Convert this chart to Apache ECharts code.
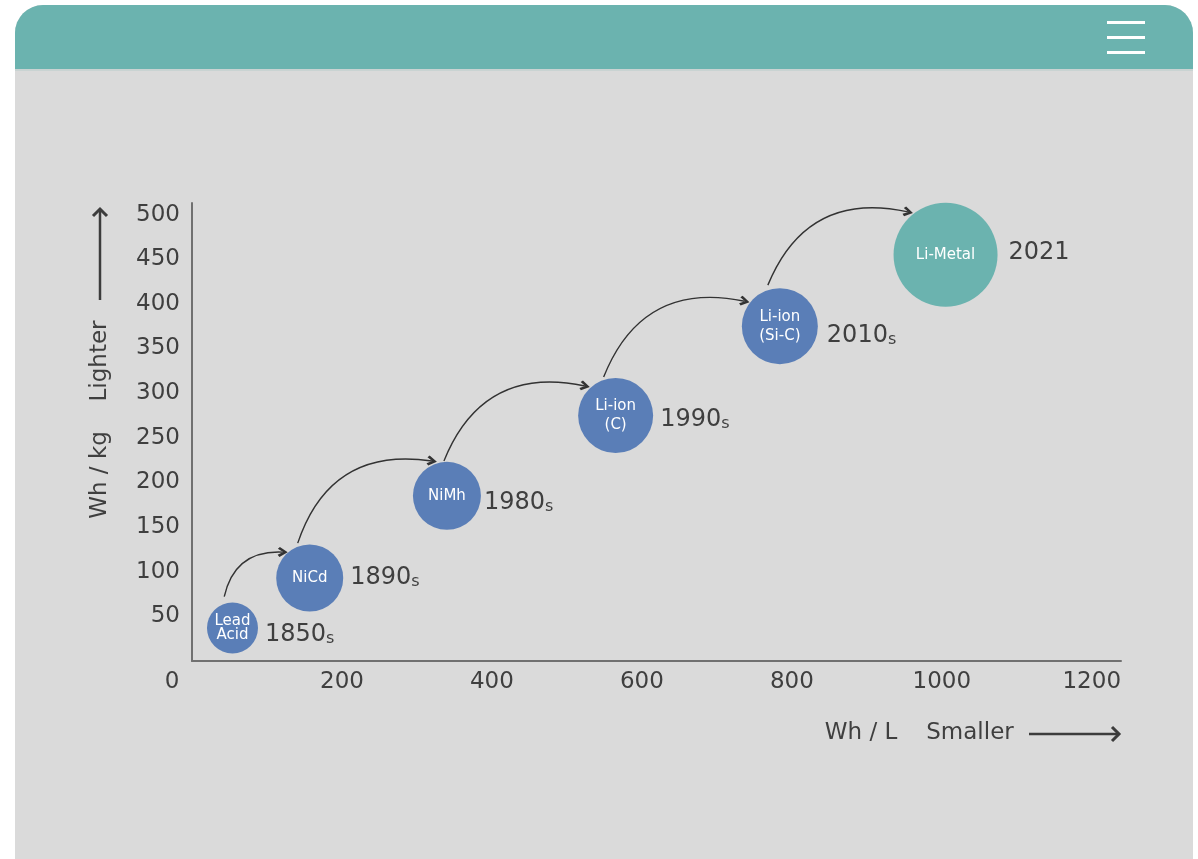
<!DOCTYPE html>
<html>
<head>
<meta charset="utf-8">
<title>Battery energy density</title>
<style>
  html, body { margin: 0; padding: 0; width: 100%; height: 100%; background: #fff; }
  #main { width: 1198px; height: 859px; }
</style>
<script src="https://cdn.jsdelivr.net/npm/echarts@6/dist/echarts.min.js"></script>
</head>
<body>
<div id="main"></div>
<script>
// data
var chemistries = ['Lead\nAcid', 'NiCd', 'NiMh', 'Li-ion\n(C)', 'Li-ion\n(Si-C)', 'Li-Metal'];
var eras = ['1850', '1890', '1980', '1990', '2010', '2021'];
var eraSuffix = ['s', 's', 's', 's', 's', ''];
var whPerL = [54, 157, 340, 565, 784, 1005];
var whPerKg = [37, 93, 185, 275, 375, 455];
// curved arrows, start / end in axis units
var arrowFrom = [[43, 72], [141, 132], [336, 224], [549, 318], [768, 421]];
var arrowTo = [[121, 122], [320, 224], [524, 308], [737, 403], [955, 503]];

// look
var bubbleSize = [51, 67, 68, 75, 76, 104];
var bubbleColor = ['#5a7eb7', '#5a7eb7', '#5a7eb7', '#5a7eb7', '#5a7eb7', '#6bb3af'];
var innerLineHeight = [14, 16, 16, 19, 19, 16];
var eraOffset = [[0, 7], [0, 0], [-4, 7], [0, 4], [2, 10], [4, -2]];
var FONT = 'DejaVu Sans';
var TEXT = '#3f3f3f';

var myChart = echarts.init(document.getElementById('main'));

// bubbles carry the era label on their right
var bubbles = whPerL.map(function (x, i) {
    return {
        value: [x, whPerKg[i]],
        symbolSize: bubbleSize[i],
        itemStyle: { color: bubbleColor[i] },
        label: {
            formatter: '{a|' + eras[i] + '}' + (eraSuffix[i] ? '{b|' + eraSuffix[i] + '}' : ''),
            offset: eraOffset[i]
        }
    };
});
// invisible twins carry the white name inside
var names = whPerL.map(function (x, i) {
    return {
        value: [x, whPerKg[i]],
        symbolSize: bubbleSize[i],
        label: { lineHeight: innerLineHeight[i] }
    };
});
var arrows = arrowFrom.map(function (p, i) {
    return { coords: [p, arrowTo[i]] };
});

var chevron = 'path://M5,0 L10,6.6 L8,8.2 L5,3.8 L2,8.2 L0,6.6 Z';

var option = {
    backgroundColor: '#ffffff',
    animation: false,
    grid: { left: 192, right: 77, top: 203, bottom: 198 },
    xAxis: {
        type: 'value',
        min: 0,
        max: 1239,
        interval: 200,
        splitLine: { show: false },
        axisTick: { show: false },
        axisLine: { show: true, lineStyle: { color: '#707070', width: 2 } },
        axisLabel: {
            margin: 10,
            color: TEXT,
            fontFamily: FONT,
            fontSize: 23,
            formatter: function (v) {
                if (v === 0) return '{o|0}';
                return v % 200 === 0 ? String(v) : '';
            },
            rich: {
                o: { fontFamily: FONT, fontSize: 23, color: TEXT, padding: [0, 40, 0, 0] }
            }
        }
    },
    yAxis: {
        type: 'value',
        min: 0,
        max: 513,
        interval: 50,
        splitLine: { show: false },
        axisTick: { show: false },
        axisLine: { show: true, lineStyle: { color: '#707070', width: 2 } },
        axisLabel: {
            margin: 12,
            color: TEXT,
            fontFamily: FONT,
            fontSize: 23,
            formatter: function (v) {
                return (v > 0 && v % 50 === 0) ? String(v) : '';
            }
        }
    },
    graphic: [
        // card + header
        { type: 'rect', z: -10, shape: { x: 15, y: 5, width: 1178, height: 860, r: [28, 28, 0, 0] }, style: { fill: '#dadada' } },
        { type: 'rect', z: -9, shape: { x: 15, y: 5, width: 1178, height: 65, r: [28, 28, 0, 0] }, style: { fill: '#6bb3af' } },
        { type: 'rect', z: -9, shape: { x: 15, y: 69, width: 1178, height: 2 }, style: { fill: '#c9d3d2' } },
        { type: 'rect', shape: { x: 1107, y: 21, width: 38, height: 3 }, style: { fill: '#ffffff' } },
        { type: 'rect', shape: { x: 1107, y: 36, width: 38, height: 3 }, style: { fill: '#ffffff' } },
        { type: 'rect', shape: { x: 1107, y: 51, width: 38, height: 3 }, style: { fill: '#ffffff' } },
        // y axis title
        { type: 'text', x: 100, y: 475, rotation: Math.PI / 2,
          style: { text: 'Wh / kg', fill: TEXT, font: '23px "' + FONT + '"', align: 'center', verticalAlign: 'middle' } },
        { type: 'text', x: 100, y: 361, rotation: Math.PI / 2,
          style: { text: 'Lighter', fill: TEXT, font: '23px "' + FONT + '"', align: 'center', verticalAlign: 'middle' } },
        { type: 'line', shape: { x1: 100, y1: 300, x2: 100, y2: 209 }, style: { stroke: '#3c3c3c', lineWidth: 2.5 } },
        { type: 'polyline', shape: { points: [[93, 216], [100, 209], [107, 216]] }, style: { stroke: '#3c3c3c', lineWidth: 3, fill: null } },
        // x axis title
        { type: 'text', x: 861, y: 733,
          style: { text: 'Wh / L', fill: TEXT, font: '23px "' + FONT + '"', align: 'center', verticalAlign: 'middle' } },
        { type: 'text', x: 970, y: 733,
          style: { text: 'Smaller', fill: TEXT, font: '23px "' + FONT + '"', align: 'center', verticalAlign: 'middle' } },
        { type: 'line', shape: { x1: 1029, y1: 734, x2: 1119, y2: 734 }, style: { stroke: '#3c3c3c', lineWidth: 2.5 } },
        { type: 'polyline', shape: { points: [[1112, 727], [1119, 734], [1112, 741]] }, style: { stroke: '#3c3c3c', lineWidth: 3, fill: null } }
    ],
    series: [
        {
            type: 'lines',
            coordinateSystem: 'cartesian2d',
            z: 3,
            symbol: ['none', chevron],
            symbolSize: [13, 10],
            lineStyle: { color: '#333333', width: 1.4, curveness: 0.42, opacity: 1 },
            data: arrows
        },
        {
            type: 'scatter',
            z: 4,
            itemStyle: { opacity: 1 },
            label: {
                show: true,
                position: 'right',
                distance: 7,
                color: TEXT,
                rich: {
                    a: { fontFamily: FONT, fontSize: 24, color: TEXT, lineHeight: 28 },
                    b: { fontFamily: FONT, fontSize: 16, color: TEXT, lineHeight: 28, padding: [8, 0, 0, 0] }
                }
            },
            data: bubbles
        },
        {
            type: 'scatter',
            z: 5,
            silent: true,
            itemStyle: { color: 'rgba(0,0,0,0)', opacity: 1 },
            label: {
                show: true,
                position: 'inside',
                formatter: function (p) { return chemistries[p.dataIndex]; },
                color: '#ffffff',
                fontFamily: FONT,
                fontSize: 15
            },
            data: names
        }
    ]
};

myChart.setOption(option);
</script>
</body>
</html>
